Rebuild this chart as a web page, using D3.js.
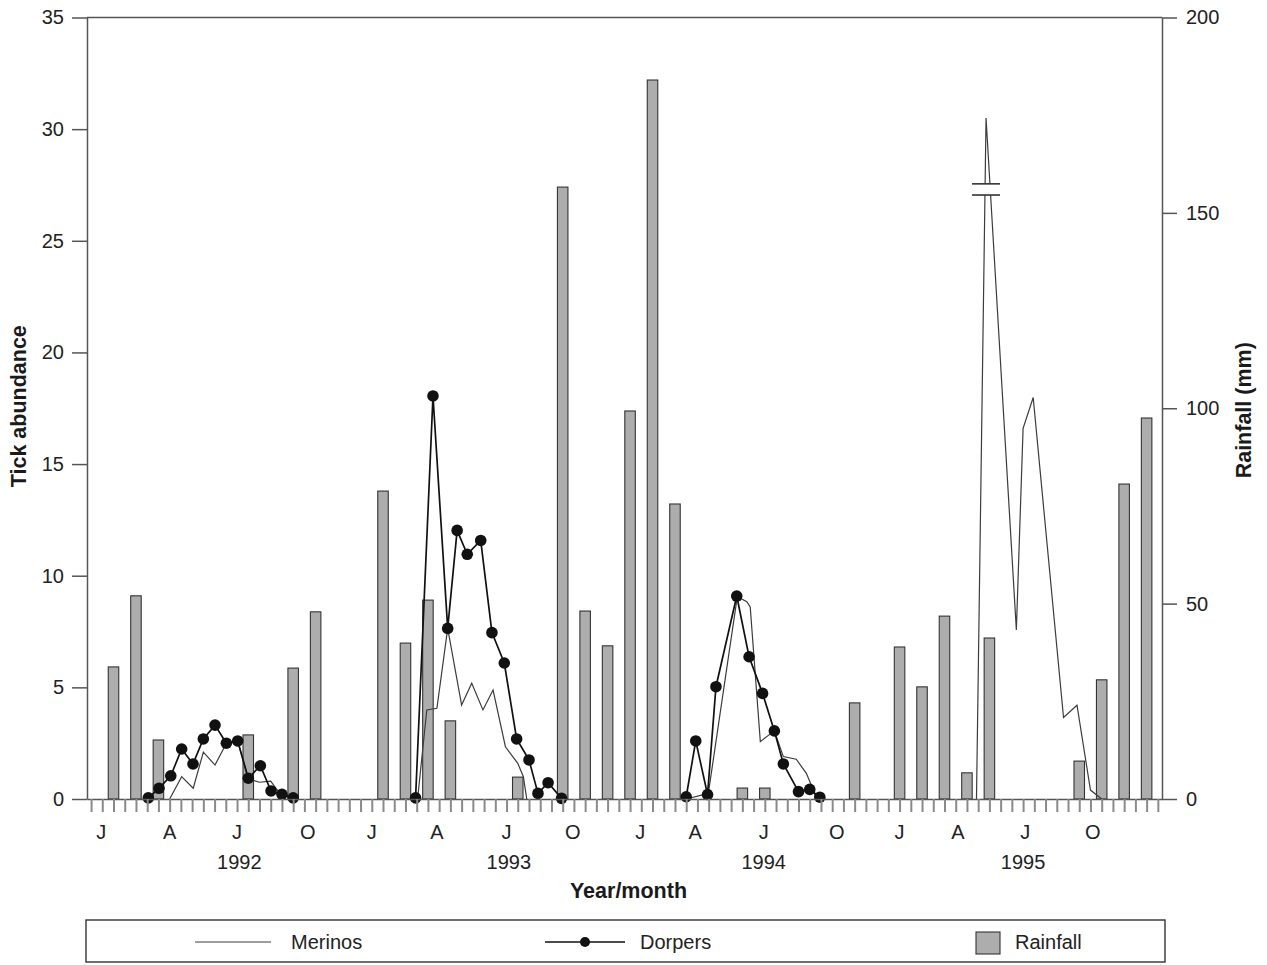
<!DOCTYPE html>
<html>
<head>
<meta charset="utf-8">
<script src="https://cdnjs.cloudflare.com/ajax/libs/d3/7.8.5/d3.min.js"></script>
<style>
    body { margin: 0; background: #fff; }
    svg#graph { width: 1267px; height: 965px; display: block;
        font-family: "Liberation Sans", Arial, Helvetica, sans-serif; }
    .bar { fill: #adadad; stroke: #333; stroke-width: 1.1; }
    .line { fill: none; }
    .line.merinos { stroke: #3c3c3c; stroke-width: 1.2; }
    .line.dorpers { stroke: #111; stroke-width: 1.7; }
    .dot { fill: #111; }
    .axis path, .axis line { stroke: #555; stroke-width: 1.5; }
    .x.axis line { stroke: #8a8a8a; stroke-width: 2; }
    .axis text { font-size: 20px; fill: #222; }
    .label { font-size: 20px; fill: #222; }
    .title { font-size: 21.5px; font-weight: bold; fill: #1a1a1a; }
</style>
</head>
<body>
<svg id="graph"></svg>
<script>
// Tick abundance (Merinos / Dorpers) and monthly rainfall, 1992-1995.
// x values are the axis tick index: one tick per fortnight, 96 ticks in all.

var nTicks = 96;

var monthLabels = ["J", "A", "J", "O", "J", "A", "J", "O", "J", "A", "J", "O", "J", "A", "J", "O"];
var monthLabelPos = [0.9, 7, 13, 19.3, 25, 30.8, 37, 42.9, 48.9, 53.8, 59.9, 66.4, 72, 77.2, 83.2, 89.2];
var years = ["1992", "1993", "1994", "1995"];
var yearPos = [13.2, 37.2, 59.9, 83];

var leftTicks = [0, 5, 10, 15, 20, 25, 30, 35];
var rightTicks = [0, 50, 100, 150, 200];

// monthly rainfall (mm)
var rainPos = [2, 4, 6, 14, 18, 20,
    26, 28, 30, 32, 38, 42, 44, 46, 48, 50, 52,
    58, 60, 68,
    72, 74, 76, 78, 80, 88, 90, 92, 94];
var rainMm = [33.8, 52, 15.1, 16.4, 33.5, 47.9,
    78.8, 39.9, 50.9, 20, 5.6, 156.6, 48.1, 39.2, 99.3, 184, 75.5,
    2.8, 2.8, 24.6,
    38.9, 28.7, 46.8, 6.7, 41.2, 9.7, 30.5, 80.6, 97.5];

// Dorpers, one array per season
var dorpersPos = [
    [5.1, 6.05, 7.1, 8.07, 9.08, 10, 11.04, 12.05, 13.06, 14, 15.08, 16.03, 17, 18],
    [28.9, 30.45, 31.76, 32.6, 33.5, 34.7, 35.7, 36.8, 37.9, 39, 39.8, 40.7, 41.9],
    [53, 53.85, 54.9, 55.65, 57.5, 58.6, 59.8, 60.85, 61.65, 63, 64, 64.9]
];
var dorpersVal = [
    [0.05, 0.48, 1.04, 2.24, 1.57, 2.69, 3.31, 2.5, 2.6, 0.93, 1.49, 0.36, 0.21, 0.05],
    [0.05, 18.05, 7.64, 12.03, 10.96, 11.58, 7.45, 6.09, 2.69, 1.75, 0.25, 0.73, 0.03],
    [0.1, 2.6, 0.2, 5.03, 9.09, 6.37, 4.73, 3.05, 1.57, 0.33, 0.43, 0.08]
];

// Merinos, one array per season
var merinosPos = [
    [7, 8.07, 9.1, 10, 11.04, 12.05, 13.06, 14, 15, 16, 16.5, 17, 18],
    [29.1, 29.9, 30.8, 31.76, 33, 33.9, 34.9, 35.8, 36.9, 38, 38.5, 38.8],
    [53, 54.97, 57.55, 58.4, 58.7, 59.6, 60.85, 61.65, 62.8, 63.7, 64.2, 64.6],
    [78.85, 79.7, 82.4, 83, 83.9, 86.6, 87.8, 89, 90]
];
var merinosVal = [
    [0, 1, 0.48, 2.1, 1.52, 2.5, 2.6, 0.9, 0.75, 0.8, 0.45, 0.2, 0],
    [0.1, 3.99, 4.06, 7.64, 4.21, 5.18, 3.99, 4.88, 2.34, 1.6, 1, 0],
    [0, 0.25, 9.06, 8.84, 8.6, 2.57, 3.05, 1.9, 1.78, 1.15, 0.55, 0],
    [0, 30.5, 7.57, 16.6, 17.98, 3.65, 4.2, 0.4, 0]
];

// Merinos 1995 peak is drawn with a scale break
var breakPos = 79.7;
var breakVals = [27.55, 27.05];

var graph = (function () {
    function create() {
        var svg = d3.select("svg#graph"),
            margin = {top: 17.5, left: 87, bottom: 166, right: 105},
            width = 1267 - margin.left - margin.right,
            height = 965 - margin.top - margin.bottom;

        var g = svg.append("g")
            .attr("transform", "translate(" + margin.left + "," + margin.top + ")");

        // Set the ranges
        var x = d3.scaleLinear().domain([-0.36, 95.37]).range([0, width]);
        var y = d3.scaleLinear().domain([0, 35]).range([height, 0]);
        var yRain = d3.scaleLinear().domain([0, 200]).range([height, 0]);

        var barW = 10.5;

        // Rainfall bars
        g.selectAll("rect.bar")
            .data(rainPos)
            .enter().append("rect")
            .attr("class", "bar")
            .attr("x", function (d) { return x(d) - barW / 2; })
            .attr("y", function (d, i) { return yRain(rainMm[i]); })
            .attr("width", barW)
            .attr("height", function (d, i) { return height - yRain(rainMm[i]); });

        var line = d3.line()
            .x(function (d) { return x(d[0]); })
            .y(function (d) { return y(d[1]); });

        function pairs(pos, val) {
            return pos.map(function (p, i) { return [p, val[i]]; });
        }

        merinosPos.forEach(function (pos, s) {
            g.append("path")
                .attr("class", "line merinos")
                .attr("d", line(pairs(pos, merinosVal[s])));
        });

        dorpersPos.forEach(function (pos, s) {
            var pts = pairs(pos, dorpersVal[s]);
            g.append("path")
                .attr("class", "line dorpers")
                .attr("d", line(pts));
            g.selectAll(null)
                .data(pts)
                .enter().append("circle")
                .attr("class", "dot")
                .attr("cx", function (d) { return x(d[0]); })
                .attr("cy", function (d) { return y(d[1]); })
                .attr("r", 5.8);
        });

        // scale break on the Merinos 1995 spike
        var bx = x(breakPos);
        g.append("rect")
            .attr("x", bx - 14).attr("y", y(breakVals[0]))
            .attr("width", 28).attr("height", y(breakVals[1]) - y(breakVals[0]))
            .attr("fill", "#fff");
        breakVals.forEach(function (v) {
            g.append("line")
                .attr("x1", bx - 14).attr("x2", bx + 14)
                .attr("y1", y(v)).attr("y2", y(v))
                .attr("stroke", "#333").attr("stroke-width", 1.6);
        });

        // Define the axes
        var xAxis = d3.axisBottom(x)
                .tickValues(d3.range(nTicks))
                .tickFormat("")
                .tickSize(13)
                .tickSizeOuter(0),
            yAxis = d3.axisLeft(y).tickValues(leftTicks).tickSize(15).tickPadding(8).tickSizeOuter(0),
            yRainAxis = d3.axisRight(yRain).tickValues(rightTicks).tickSize(15).tickPadding(9).tickSizeOuter(0);

        g.append("g")
            .attr("class", "x axis")
            .attr("transform", "translate(0," + height + ")")
            .call(xAxis);

        g.append("g")
            .attr("class", "y axis")
            .call(yAxis);

        g.append("g")
            .attr("class", "y rain axis")
            .attr("transform", "translate(" + width + ",0)")
            .call(yRainAxis);

        // top frame line
        g.append("line")
            .attr("x1", 0).attr("x2", width)
            .attr("y1", 0).attr("y2", 0)
            .attr("stroke", "#555").attr("stroke-width", 1.5);

        // month and year labels
        g.selectAll("text.month")
            .data(monthLabels)
            .enter().append("text")
            .attr("class", "label month")
            .attr("text-anchor", "middle")
            .attr("x", function (d, i) { return x(monthLabelPos[i]); })
            .attr("y", height + 40)
            .text(function (d) { return d; });

        g.selectAll("text.year")
            .data(years)
            .enter().append("text")
            .attr("class", "label year")
            .attr("text-anchor", "middle")
            .attr("x", function (d, i) { return x(yearPos[i]); })
            .attr("y", height + 70)
            .text(function (d) { return d; });

        g.append("text")
            .attr("class", "title")
            .attr("text-anchor", "middle")
            .attr("x", width / 2 + 4)
            .attr("y", height + 99)
            .text("Year/month");

        g.append("text")
            .attr("class", "title")
            .attr("text-anchor", "middle")
            .attr("transform", "translate(" + (-69) + "," + (height / 2 - 2) + ") rotate(-90)")
            .attr("dy", "0.35em")
            .text("Tick abundance");

        g.append("text")
            .attr("class", "title")
            .attr("text-anchor", "middle")
            .attr("transform", "translate(" + (width + 81) + "," + (height / 2 + 2) + ") rotate(-90)")
            .attr("dy", "0.35em")
            .text("Rainfall (mm)");

        // Legend
        var lg = svg.append("g").attr("class", "legend");
        lg.append("rect")
            .attr("x", 86).attr("y", 920)
            .attr("width", 1079).attr("height", 42)
            .attr("fill", "none").attr("stroke", "#333").attr("stroke-width", 1.4);

        lg.append("line")
            .attr("x1", 195).attr("x2", 271).attr("y1", 942).attr("y2", 942)
            .attr("class", "line merinos");
        lg.append("text").attr("class", "label").attr("x", 291).attr("y", 949).text("Merinos");

        lg.append("line")
            .attr("x1", 545).attr("x2", 625).attr("y1", 942).attr("y2", 942)
            .attr("class", "line dorpers");
        lg.append("circle").attr("class", "dot").attr("cx", 585).attr("cy", 942).attr("r", 5);
        lg.append("text").attr("class", "label").attr("x", 640).attr("y", 949).text("Dorpers");

        lg.append("rect")
            .attr("class", "bar")
            .attr("x", 976).attr("y", 932).attr("width", 24).attr("height", 22);
        lg.append("text").attr("class", "label").attr("x", 1015).attr("y", 949).text("Rainfall");
    }

    return {
        create: create
    };
})();

graph.create();
</script>
</body>
</html>
